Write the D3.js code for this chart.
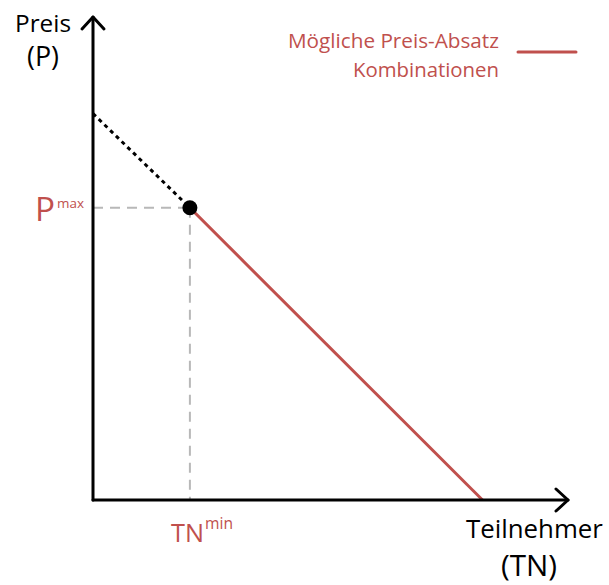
<!DOCTYPE html>
<html><head><meta charset="utf-8">
<script src="https://cdn.jsdelivr.net/npm/d3@7"></script>
<style>body{margin:0;background:#fff}svg{display:block}text{font-family:"Open Sans",Lato,sans-serif}</style>
</head><body>
<script>
// data (abstract units)
const xDomain = [0, 100];
const yDomain = [0, 100];
const demandExtrapolated = [{tn: 0, p: 80}, {tn: 20.4, p: 60.5}];
const demandPossible = [{tn: 20.4, p: 60.5}, {tn: 82, p: 0}];
const optimum = {tn: 20.4, p: 60.5};
const axisLabels = {y: ["Preis", "(P)"], x: ["Teilnehmer", "(TN)"]};
const legendLabel = ["Mögliche Preis-Absatz", "Kombinationen"];
const pLabel = ["P", "max"], tnLabel = ["TN", "min"];

const W = 609, H = 585;
const red = "#c0504d";
const svg = d3.select("body").append("svg").attr("width", W).attr("height", H);
const x = d3.scaleLinear().domain(xDomain).range([93, 568]);
const y = d3.scaleLinear().domain(yDomain).range([500, 17]);
const line = d3.line().x(d => x(d.tn)).y(d => y(d.p));

// text helper: fit text to a target width
function label(str, xPos, yPos, width, anchor, color) {
  const t = svg.append("text").attr("x", xPos).attr("y", yPos).attr("text-anchor", anchor || "start")
    .attr("fill", color || "#000").attr("font-size", 20).text(str);
  const w = t.node().getComputedTextLength();
  t.attr("font-size", (20 * width / w).toFixed(2));
  return t;
}

// guides
svg.append("line").attr("x1", x(0)).attr("x2", x(optimum.tn)).attr("y1", y(optimum.p)).attr("y2", y(optimum.p))
  .attr("stroke", "#b8b8b8").attr("stroke-width", 2).attr("stroke-dasharray", "10,7");
svg.append("line").attr("x1", x(optimum.tn)).attr("x2", x(optimum.tn)).attr("y1", y(optimum.p)).attr("y2", y(0))
  .attr("stroke", "#b8b8b8").attr("stroke-width", 2).attr("stroke-dasharray", "10,7");

// demand lines
svg.append("path").attr("d", line(demandExtrapolated)).attr("fill", "none").attr("stroke", "#000")
  .attr("stroke-width", 3).attr("stroke-dasharray", "4,4");
svg.append("path").attr("d", line(demandPossible)).attr("fill", "none").attr("stroke", red).attr("stroke-width", 3);

// axes
const ax = svg.append("g").attr("stroke", "#000").attr("stroke-width", 3).attr("fill", "none")
  .attr("stroke-linecap", "round").attr("stroke-linejoin", "round");
ax.append("path").attr("d", `M${x(0)},${y(0)}V${y(100)}`);
ax.append("path").attr("d", `M${x(0)},${y(0)}H${x(100)}`);
ax.append("path").attr("d", `M${x(0)-11},${y(100)+12}L${x(0)},${y(100)}L${x(0)+11},${y(100)+12}`);
ax.append("path").attr("d", `M${x(100)-12},${y(0)-11}L${x(100)},${y(0)}L${x(100)-12},${y(0)+11}`);

// dot
svg.append("circle").attr("cx", x(optimum.tn)).attr("cy", y(optimum.p)).attr("r", 7.5).attr("fill", "#000");

// axis labels
label(axisLabels.y[0], 15, 32, 56);
label(axisLabels.y[1], 27, 66, 32);
label(axisLabels.x[0], 466, 538, 137);
label(axisLabels.x[1], 501, 576, 56);

// Pmax / TNmin
label(pLabel[0], 35, 221, 20, "start", red);
label(pLabel[1], 57, 208, 27, "start", red);
label(tnLabel[0], 171, 542, 33, "start", red);
label(tnLabel[1], 205, 529, 28, "start", red);

// legend
label(legendLabel[0], 288, 48, 211, "start", red);
label(legendLabel[1], 353, 77, 146, "start", red);
svg.append("line").attr("x1", 518).attr("x2", 576).attr("y1", 52).attr("y2", 52).attr("stroke", red).attr("stroke-width", 3).attr("stroke-linecap", "round");
</script>
</body></html>
